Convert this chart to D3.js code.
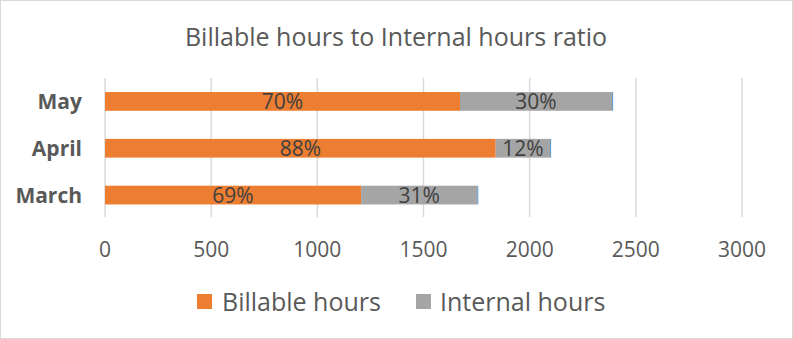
<!DOCTYPE html>
<html><head><meta charset="utf-8">
<script src="https://cdn.jsdelivr.net/npm/d3@7"></script>
<style>body{margin:0;background:#fff;}svg{display:block;font-family:"Open Sans","Liberation Sans",Arial,sans-serif;}</style>
</head><body>
<svg id="c" width="793" height="339"></svg>
<script>
const title = "Billable hours to Internal hours ratio";
const categories = ["May", "April", "March"];
const billable = [1672, 1840, 1206];
const internal = [716, 256, 547];
const totalMarker = [5, 5, 5];
const billableLabels = ["70%", "88%", "69%"];
const internalLabels = ["30%", "12%", "31%"];
const ticks = [0, 500, 1000, 1500, 2000, 2500, 3000];
const seriesNames = ["Billable hours", "Internal hours"];

const svg = d3.select("#c");
svg.append("rect").attr("x",0.5).attr("y",0.5).attr("width",792).attr("height",338)
  .attr("fill","#fff").attr("stroke","#d9d9d9");

const x = d3.scaleLinear().domain([0,3000]).range([105,742]);
const y = d3.scaleBand().domain(categories).range([78,218.5]).paddingInner(0.6).paddingOuter(0.3);

// gridlines
svg.append("g").selectAll("line").data(ticks).join("line")
  .attr("x1",d=>x(d)).attr("x2",d=>x(d)).attr("y1",78).attr("y2",217)
  .attr("stroke","#d9d9d9").attr("stroke-width",1.5);

const colors = ["#ed7d31","#a5a5a5","#5b9bd5"];
const rows = categories.map((c,i)=>({c, vals:[billable[i], internal[i], totalMarker[i]], labels:[billableLabels[i], internalLabels[i]]}));
const g = svg.append("g");
rows.forEach(r=>{
  let acc = 0;
  r.vals.forEach((v,j)=>{
    g.append("rect").attr("x",x(acc)).attr("y",y(r.c)).attr("width",x(acc+v)-x(acc))
      .attr("height",y.bandwidth()).attr("fill",colors[j]);
    if(j<2){
      g.append("text").attr("x",(x(acc)+x(acc+v))/2).attr("y",y(r.c)+y.bandwidth()/2)
        .attr("dy","0.36em").attr("text-anchor","middle").attr("fill","#404040")
        .attr("font-size",21).text(r.labels[j]);
    }
    acc += v;
  });
});

// category labels
svg.append("g").selectAll("text").data(categories).join("text")
  .attr("x",82).attr("y",d=>y(d)+y.bandwidth()/2).attr("dy","0.36em")
  .attr("text-anchor","end").attr("font-weight","bold").attr("font-size",21)
  .attr("fill","#595959").text(d=>d);

// x axis labels
svg.append("g").selectAll("text").data(ticks).join("text")
  .attr("x",d=>x(d)).attr("y",249).attr("dy","0.36em").attr("text-anchor","middle")
  .attr("font-size",21).attr("fill","#595959").text(d=>d);

// title
svg.append("text").attr("x",396).attr("y",37).attr("dy","0.36em").attr("text-anchor","middle")
  .attr("font-size",25).attr("fill","#595959").text(title);

// legend
const leg = [{x:197,tx:222},{x:416,tx:440}];
seriesNames.forEach((n,i)=>{
  svg.append("rect").attr("x",leg[i].x).attr("y",294).attr("width",15).attr("height",15).attr("fill",colors[i]);
  svg.append("text").attr("x",leg[i].tx).attr("y",302).attr("dy","0.36em")
    .attr("font-size",25).attr("fill","#595959").text(n);
});
</script>
</body></html>
